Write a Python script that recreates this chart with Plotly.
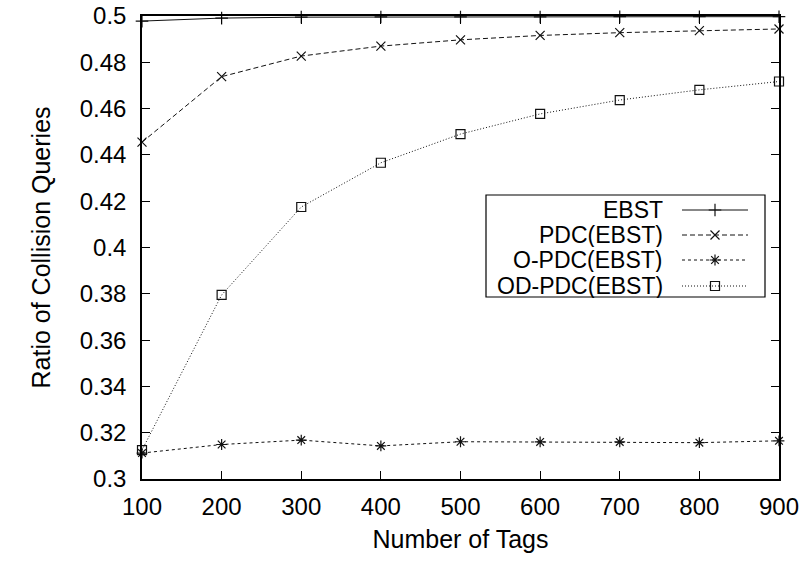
import plotly.graph_objects as go

# Number of tags on the x axis
tags = [100, 200, 300, 400, 500, 600, 700, 800, 900]

# Ratio of collision queries for each protocol
ebst = [0.4978, 0.4991, 0.4995, 0.4996, 0.4996, 0.4996, 0.4997, 0.4997, 0.4997]
pdc_ebst = [0.4455, 0.4738, 0.4827, 0.4870, 0.4897, 0.4916, 0.4928, 0.4937, 0.4944]
o_pdc_ebst = [0.3112, 0.3149, 0.3168, 0.3143, 0.3161, 0.3160, 0.3160, 0.3157, 0.3165]
od_pdc_ebst = [0.3125, 0.3795, 0.4175, 0.4366, 0.4490, 0.4577, 0.4637, 0.4681, 0.4717]

y_ticks = [0.3, 0.32, 0.34, 0.36, 0.38, 0.4, 0.42, 0.44, 0.46, 0.48, 0.5]
y_tick_text = ["0.3", "0.32", "0.34", "0.36", "0.38", "0.4", "0.42", "0.44", "0.46", "0.48", "0.5"]
x_ticks = [100, 200, 300, 400, 500, 600, 700, 800, 900]

series_names = ["EBST", "PDC(EBST)", "O-PDC(EBST)", "OD-PDC(EBST)"]
series_values = [ebst, pdc_ebst, o_pdc_ebst, od_pdc_ebst]

FONT = "Liberation Sans, Arial, Helvetica, sans-serif"
INK = "#111111"

styles = [
    dict(dash="solid", symbol="cross-thin", size=9),
    dict(dash="5px,3px", symbol="x-thin", size=9),
    dict(dash="3px,3px", symbol="asterisk", size=9),
    dict(dash="1px,2px", symbol="square-open", size=9),
]

fig = go.Figure()

for name, vals, st in zip(series_names, series_values, styles):
    fig.add_trace(go.Scatter(
        x=tags, y=vals, name=name, mode="lines+markers",
        line=dict(color=INK, width=1, dash=st["dash"]),
        marker=dict(symbol=st["symbol"], size=st["size"], color=INK,
                    line=dict(color=INK, width=1.2)),
        showlegend=False, cliponaxis=False,
    ))

# Key drawn in pixel-like coordinates on an overlay axis pair
KX0, KX1, KY0, KY1 = 486, 765, 195, 297
row_y = [210, 235, 260, 286]
for name, st, ry in zip(series_names, styles, row_y):
    fig.add_trace(go.Scatter(
        x=[682, 748], y=[ry, ry], mode="lines", xaxis="x2", yaxis="y2",
        line=dict(color=INK, width=1, dash=st["dash"]), showlegend=False,
        hoverinfo="skip",
    ))
    fig.add_trace(go.Scatter(
        x=[715], y=[ry], mode="markers", xaxis="x2", yaxis="y2",
        marker=dict(symbol=st["symbol"], size=st["size"], color=INK,
                    line=dict(color=INK, width=1.2)),
        showlegend=False, hoverinfo="skip",
    ))
    fig.add_annotation(
        x=665, y=ry, xref="x2", yref="y2", text=name, showarrow=False,
        xanchor="right", yanchor="middle", height=24,
        font=dict(family=FONT, size=23, color="black"),
    )

fig.add_shape(type="rect", xref="x2", yref="y2", x0=KX0, x1=KX1, y0=KY0, y1=KY1,
              line=dict(color="black", width=1.2), fillcolor="rgba(0,0,0,0)")

axis_common = dict(
    showgrid=False, zeroline=False, showline=True, linecolor="black", linewidth=1.5,
    mirror="allticks", ticks="inside", ticklen=8, tickwidth=1, tickcolor="black",
    tickfont=dict(family=FONT, size=24, color="black"), automargin=False,
)

fig.update_layout(
    width=807, height=561,
    margin=dict(l=142, r=28, t=16, b=82),
    paper_bgcolor="white", plot_bgcolor="white",
    font=dict(family=FONT, color="black"),
    xaxis=dict(
        range=[100, 900], tickvals=x_ticks, ticklabelstandoff=5,
        title=dict(text="Number of Tags", font=dict(family=FONT, size=25), standoff=12),
        **axis_common,
    ),
    yaxis=dict(
        range=[0.3, 0.5], tickvals=y_ticks, ticktext=y_tick_text, ticklabelstandoff=9,
        title=dict(text="Ratio of Collision Queries", font=dict(family=FONT, size=25), standoff=22),
        **axis_common,
    ),
    xaxis2=dict(range=[142, 779], overlaying="x", visible=False, fixedrange=True),
    yaxis2=dict(range=[479, 16], overlaying="y", visible=False, fixedrange=True),
)

fig.write_html("out.html")
